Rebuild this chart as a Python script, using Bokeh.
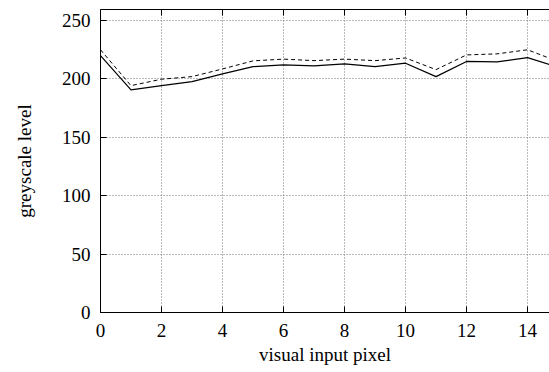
from bokeh.plotting import figure
from bokeh.models import LinearAxis, Range1d, FixedTicker, CustomJSTickFormatter
from bokeh.embed import file_html
from bokeh.resources import INLINE

# greyscale profile along the visual input row
pixels = [0, 1, 2, 3, 4, 5, 6, 7, 8, 9, 10, 11, 12, 13, 14, 15]
level_solid = [220, 190.6, 194.3, 197.8, 204.3, 210.6, 212, 211.2, 212.9, 210.6, 213.5, 202, 215, 214.6, 218.3, 210]
level_dashed = [225, 194.3, 199.8, 202, 208.6, 215.5, 217, 215.7, 217, 215.7, 218, 208, 220.6, 221.5, 225, 215]
x_ticks = [0, 2, 4, 6, 8, 10, 12, 14]
y_ticks = [0, 50, 100, 150, 200, 250]

FONT = "Liberation Serif"
SIZE = "19px"

p = figure(width=549, height=372, output_backend="svg", toolbar_location=None,
           x_range=Range1d(0, 14.72), y_range=Range1d(0, 259.5),
           x_axis_label="visual input pixel", y_axis_label="greyscale level")
p.min_border_left = 100
p.min_border_right = 0
p.min_border_top = 9
p.min_border_bottom = 60
p.outline_line_color = None
p.background_fill_color = "white"
p.border_fill_color = "white"

for ax in (p.xaxis[0], p.yaxis[0]):
    ax.major_label_text_font = FONT
    ax.major_label_text_font_size = SIZE
    ax.major_label_text_color = "black"
    ax.axis_label_text_font = FONT
    ax.axis_label_text_font_size = SIZE
    ax.axis_label_text_font_style = "normal"
    ax.axis_label_text_color = "black"
    ax.axis_line_color = "black"
    ax.axis_line_width = 1
    ax.major_tick_in = 6
    ax.major_tick_out = 0
    ax.minor_tick_line_color = None
    ax.major_tick_line_color = "black"

p.xaxis[0].ticker = FixedTicker(ticks=x_ticks)
p.yaxis[0].ticker = FixedTicker(ticks=y_ticks)
p.xaxis[0].major_label_standoff = 11
p.yaxis[0].major_label_standoff = 10
p.xaxis[0].axis_label_standoff = 4
p.yaxis[0].axis_label_standoff = 24

# top border with mirrored ticks, no labels
top = LinearAxis(ticker=FixedTicker(ticks=x_ticks),
                 formatter=CustomJSTickFormatter(code="return ''"),
                 major_tick_in=6, major_tick_out=0, minor_tick_line_color=None,
                 axis_line_color="black", major_label_standoff=0)
p.add_layout(top, "above")

p.xgrid.ticker = FixedTicker(ticks=x_ticks)
p.ygrid.ticker = FixedTicker(ticks=y_ticks)
for g in (p.xgrid[0], p.ygrid[0]):
    g.grid_line_color = "#777777"
    g.grid_line_dash = "1 2"
    g.grid_line_width = 1

p.line(pixels, level_dashed, line_color="black", line_width=1, line_dash="4 3")
p.line(pixels, level_solid, line_color="black", line_width=1.2)

open("out.html", "w").write(file_html(p, INLINE))
